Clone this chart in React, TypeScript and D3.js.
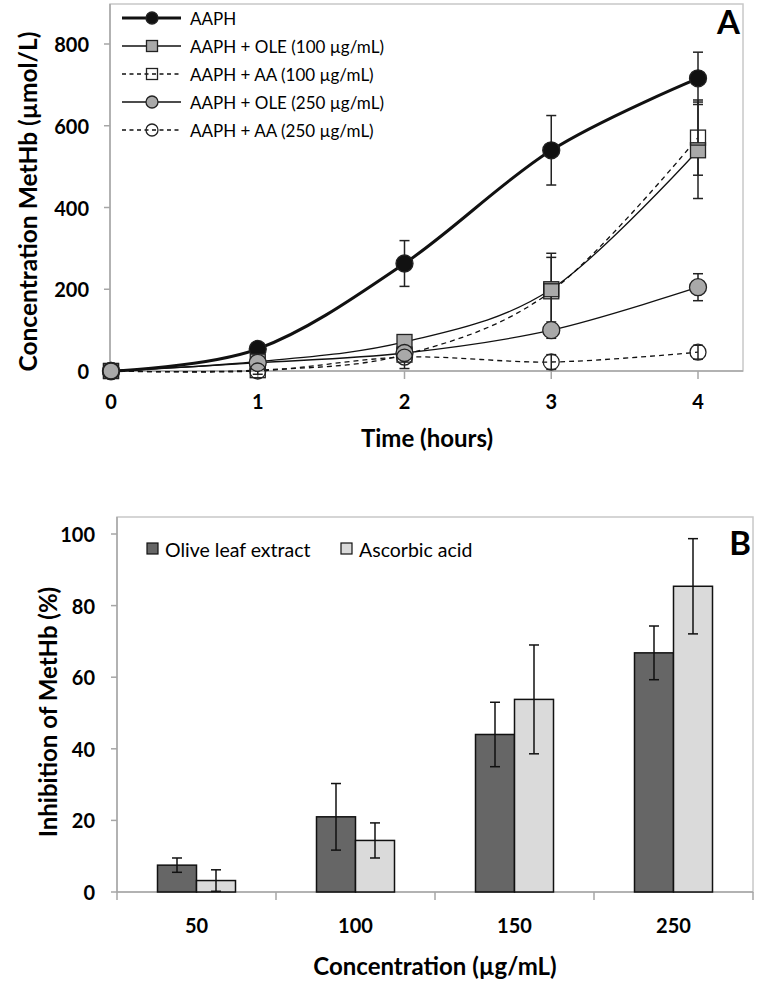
import React from "react";
import * as d3 from "d3";

// ---------- Chart A data ----------
const times = [0, 1, 2, 3, 4];
const aaph = [0, 54, 263, 540, 716];
const aaphErr = [0, 0, 56, 85, 64];
const ole100 = [0, 23, 71, 200, 540];
const ole100Err = [0, 0, 0, 88, 118];
const aa100 = [0, 2, 40, 195, 571];
const aa100Err = [0, 0, 0, 83, 92];
const ole250 = [0, 20, 44, 100, 205];
const ole250Err = [0, 0, 0, 20, 33];
const aa250 = [0, 0, 34, 22, 46];
const aa250Err = [0, 8, 28, 18, 17];
const yTicksA = [0, 200, 400, 600, 800];
const seriesNamesA = [
  "AAPH",
  "AAPH + OLE (100 µg/mL)",
  "AAPH + AA (100 µg/mL)",
  "AAPH + OLE (250 µg/mL)",
  "AAPH + AA (250 µg/mL)",
];

// ---------- Chart B data ----------
const concentrations = ["50", "100", "150", "250"];
const oleInhibition = [7.5, 21, 44, 66.8];
const oleInhibitionErr = [2, 9.3, 9, 7.5];
const aaInhibition = [3.2, 14.4, 53.8, 85.4];
const aaInhibitionErr = [3, 4.9, 15.2, 13.3];
const yTicksB = [0, 20, 40, 60, 80, 100];
const seriesNamesB = ["Olive leaf extract", "Ascorbic acid"];

const FONT = "Lato, 'Open Sans', sans-serif";
const GRID = "#a6a6a6";

type Style = {
  values: number[];
  err: number[];
  shape: "circle" | "square";
  fill: string;
  width: number;
  dash?: string;
  r: number;
};

const styles: Style[] = [
  { values: aaph, err: aaphErr, shape: "circle", fill: "#111", width: 3, r: 8.5 },
  { values: ole100, err: ole100Err, shape: "square", fill: "#a9a9a9", width: 1.3, r: 7.5 },
  { values: aa100, err: aa100Err, shape: "square", fill: "none", width: 1.3, dash: "5,4", r: 7.5 },
  { values: ole250, err: ole250Err, shape: "circle", fill: "#a9a9a9", width: 1.3, r: 8.5 },
  { values: aa250, err: aa250Err, shape: "circle", fill: "none", width: 1.3, dash: "5,4", r: 8 },
];

function Marker({ s, cx, cy, r }: { s: Style; cx: number; cy: number; r: number }) {
  if (s.shape === "circle")
    return <circle cx={cx} cy={cy} r={r} fill={s.fill} stroke="#222" strokeWidth={1.3} />;
  return (
    <rect x={cx - r} y={cy - r} width={2 * r} height={2 * r} fill={s.fill} stroke="#222" strokeWidth={1.3} />
  );
}

function ChartA() {
  const left = 110, right = 743, top = 4, bottom = 371;
  const x = d3.scaleLinear().domain([0, 4]).range([111, 698]);
  const y = d3.scaleLinear().domain([0, 800]).range([bottom, 44]);
  const line = d3
    .line<number>()
    .x((_, i) => x(times[i]))
    .y((v) => y(v))
    .curve(d3.curveCatmullRom.alpha(0));
  return (
    <g>
      {/* plot box */}
      <rect x={left} y={top} width={right - left} height={bottom - top} fill="none" stroke="#c8c8c8" strokeWidth={1.5} />
      <line x1={left} x2={left} y1={top} y2={bottom} stroke={GRID} strokeWidth={1.5} />
      <line x1={left} x2={right} y1={bottom} y2={bottom} stroke={GRID} strokeWidth={1.5} />
      {yTicksA.map((t) => (
        <g key={t}>
          <line x1={left - 6} x2={left} y1={y(t)} y2={y(t)} stroke={GRID} strokeWidth={1.5} />
          <text x={89} y={y(t)} textAnchor="end" dominantBaseline="central" fontFamily={FONT} fontWeight="bold" fontSize={20}>
            {t}
          </text>
        </g>
      ))}
      {times.map((t) => (
        <g key={t}>
          <line x1={x(t)} x2={x(t)} y1={bottom} y2={bottom + 8} stroke={GRID} strokeWidth={1.5} />
          <text x={x(t)} y={401} textAnchor="middle" dominantBaseline="central" fontFamily={FONT} fontWeight="bold" fontSize={20}>
            {t}
          </text>
        </g>
      ))}
      <text x={427} y={437} textAnchor="middle" dominantBaseline="central" fontFamily={FONT} fontWeight="bold" fontSize={24}>
        Time (hours)
      </text>
      <text
        transform={`translate(27,${(top + bottom) / 2 + 14}) rotate(-90)`}
        textAnchor="middle"
        dominantBaseline="central"
        fontFamily={FONT}
        fontWeight="bold"
        fontSize={24.5}
      >
        Concentration MetHb (µmol/L)
      </text>
      <text x={740} y={34} textAnchor="end" fontFamily={FONT} fontWeight="bold" fontSize={33}>
        A
      </text>
      {/* lines */}
      {styles.map((s, i) => (
        <path key={i} d={line(s.values) || ""} fill="none" stroke="#111" strokeWidth={s.width} strokeDasharray={s.dash} />
      ))}
      {/* error bars */}
      {styles.map((s, i) =>
        s.values.map((v, j) =>
          s.err[j] > 0 ? (
            <g key={`${i}-${j}`} stroke="#222" strokeWidth={1.5}>
              <line x1={x(times[j])} x2={x(times[j])} y1={y(v - s.err[j])} y2={y(v + s.err[j])} />
              <line x1={x(times[j]) - 5} x2={x(times[j]) + 5} y1={y(v - s.err[j])} y2={y(v - s.err[j])} />
              <line x1={x(times[j]) - 5} x2={x(times[j]) + 5} y1={y(v + s.err[j])} y2={y(v + s.err[j])} />
            </g>
          ) : null
        )
      )}
      {/* markers */}
      {styles.map((s, i) =>
        s.values.map((v, j) => <Marker key={`${i}-${j}`} s={s} cx={x(times[j])} cy={y(v)} r={s.r} />)
      )}
      {/* legend */}
      {seriesNamesA.map((name, i) => {
        const s = styles[i];
        const ly = 18 + i * 28;
        return (
          <g key={name}>
            <line x1={122} x2={181} y1={ly} y2={ly} stroke="#111" strokeWidth={s.width} strokeDasharray={s.dash ? "4,3.5" : undefined} />
            <Marker s={s} cx={152} cy={ly} r={s.shape === "circle" ? 6 : 5.5} />
            <text x={190} y={ly} dominantBaseline="central" fontFamily={FONT} fontSize={17}>
              {name}
            </text>
          </g>
        );
      })}
    </g>
  );
}

function ChartB() {
  const left = 117, right = 753, top = 517, bottom = 892;
  const x0 = d3.scaleBand<string>().domain(concentrations).range([left, right]);
  const y = d3.scaleLinear().domain([0, 100]).range([bottom, 534]);
  const barW = 39;
  const colors = ["#666666", "#dadada"];
  const vals = [oleInhibition, aaInhibition];
  const errs = [oleInhibitionErr, aaInhibitionErr];
  const bands = [...concentrations.map((c) => x0(c) as number), right];
  return (
    <g>
      <rect x={left} y={top} width={right - left} height={bottom - top} fill="none" stroke="#c8c8c8" strokeWidth={1.5} />
      <line x1={left} x2={left} y1={top} y2={bottom} stroke={GRID} strokeWidth={1.5} />
      <line x1={left} x2={right} y1={bottom} y2={bottom} stroke={GRID} strokeWidth={1.5} />
      {yTicksB.map((t) => (
        <g key={t}>
          <line x1={left - 6} x2={left} y1={y(t)} y2={y(t)} stroke={GRID} strokeWidth={1.5} />
          <text x={95} y={y(t)} textAnchor="end" dominantBaseline="central" fontFamily={FONT} fontWeight="bold" fontSize={20}>
            {t}
          </text>
        </g>
      ))}
      {bands.map((b, i) => (
        <line key={i} x1={b} x2={b} y1={bottom} y2={bottom + 8} stroke={GRID} strokeWidth={1.5} />
      ))}
      {concentrations.map((c) => (
        <text
          key={c}
          x={(x0(c) as number) + x0.bandwidth() / 2}
          y={925}
          textAnchor="middle"
          dominantBaseline="central"
          fontFamily={FONT}
          fontWeight="bold"
          fontSize={20}
        >
          {c}
        </text>
      ))}
      {vals.map((arr, si) =>
        arr.map((v, j) => {
          const cx = (x0(concentrations[j]) as number) + x0.bandwidth() / 2;
          const bx = si === 0 ? cx - barW : cx;
          const mid = bx + barW / 2;
          const e = errs[si][j];
          return (
            <g key={`${si}-${j}`}>
              <rect x={bx} y={y(v)} width={barW} height={bottom - y(v)} fill={colors[si]} stroke="#111" strokeWidth={1.5} />
              <g stroke="#111" strokeWidth={1.5}>
                <line x1={mid} x2={mid} y1={y(v - e)} y2={y(v + e)} />
                <line x1={mid - 5} x2={mid + 5} y1={y(v - e)} y2={y(v - e)} />
                <line x1={mid - 5} x2={mid + 5} y1={y(v + e)} y2={y(v + e)} />
              </g>
            </g>
          );
        })
      )}
      {seriesNamesB.map((n, i) => {
        const lx = i === 0 ? 147 : 341;
        return (
          <g key={n}>
            <rect x={lx} y={543} width={11} height={11} fill={colors[i]} stroke="#111" strokeWidth={1.2} />
            <text x={lx + 18} y={549} dominantBaseline="central" fontFamily={FONT} fontSize={19.5}>
              {n}
            </text>
          </g>
        );
      })}
      <text x={751} y={555} textAnchor="end" fontFamily={FONT} fontWeight="bold" fontSize={33}>
        B
      </text>
      <text x={435} y={965} textAnchor="middle" dominantBaseline="central" fontFamily={FONT} fontWeight="bold" fontSize={24}>
        Concentration (µg/mL)
      </text>
      <text
        transform={`translate(47,712) rotate(-90)`}
        textAnchor="middle"
        dominantBaseline="central"
        fontFamily={FONT}
        fontWeight="bold"
        fontSize={24}
      >
        Inhibition of MetHb (%)
      </text>
    </g>
  );
}

export default function App() {
  return (
    <svg width={764} height={985} style={{ position: "absolute", left: 0, top: 0, background: "#fff" }}>
      <rect width={764} height={985} fill="#fff" />
      <ChartA />
      <ChartB />
    </svg>
  );
}
